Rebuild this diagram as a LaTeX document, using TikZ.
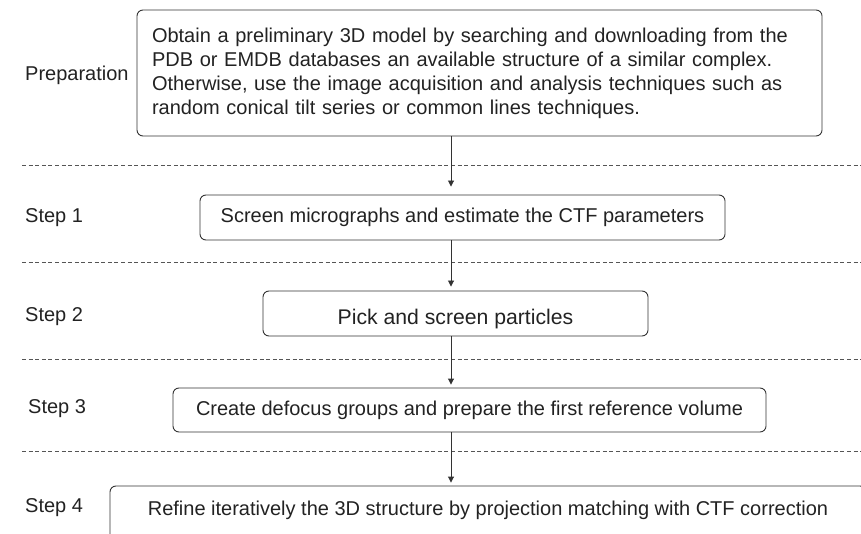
\documentclass[tikz,border=0pt]{standalone}
\usepackage{fontspec}
\setmainfont{Liberation Sans}
\usetikzlibrary{arrows.meta}
\definecolor{ink}{HTML}{222222}
\definecolor{edge}{HTML}{333333}
\definecolor{dashc}{HTML}{555555}
\begin{document}
\begin{tikzpicture}[x=1pt,y=1pt,
  box/.style={draw=edge, line width=0.9pt, rounded corners=6pt, inner sep=0pt, text=ink, font=\fontsize{20}{24}\selectfont},
  lab/.style={anchor=west, inner sep=0pt, text=ink, font=\fontsize{20}{24}\selectfont},
  sep/.style={draw=dashc, line width=0.8pt, dash pattern=on 4pt off 2.6pt},
  flow/.style={draw=edge, line width=0.9pt, -{Triangle[length=6pt,width=6pt]}}]
\useasboundingbox (0,0) rectangle (861,-534);
% boxes
\node[box, minimum width=685pt, minimum height=126pt, text width=655pt, align=left] (prep) at (479.5,-73)
 {Obtain a preliminary 3D model by searching and downloading from the\\
  PDB or EMDB databases an available structure of a similar complex.\\
  Otherwise, use the image acquisition and analysis techniques such as\\
  random conical tilt series or common lines techniques.};
\node[box, minimum width=525pt, minimum height=45pt] (s1) at (462.5,-217.5) {Screen micrographs and estimate the CTF parameters};
\node[box, minimum width=385pt, minimum height=45pt, font=\fontsize{21.2}{25}\selectfont, text height=21pt, text depth=0pt] (s2) at (455.5,-313.5) {Pick and screen particles};
\node[box, minimum width=593pt, minimum height=44pt] (s3) at (469.5,-410) {Create defocus groups and prepare the first reference volume};
\node[box, minimum width=756pt, minimum height=54pt, text height=10pt, text depth=6pt] (s4) at (488,-513) {Refine iteratively the 3D structure by projection matching with CTF correction};
% labels
\node[lab] (lp) at (25,-75) {Preparation};
\node[lab] (l1) at (25,-218) {Step 1};
\node[lab] (l2) at (25,-317) {Step 2};
\node[lab] (l3) at (28,-409) {Step 3};
\node[lab] (l4) at (25,-508) {Step 4};
% separators
\coordinate (d1a) at (22,-165); \coordinate (d1b) at (861,-165);
\coordinate (d2a) at (22,-262); \coordinate (d2b) at (861,-262);
\coordinate (d3a) at (22,-359); \coordinate (d3b) at (861,-359);
\coordinate (d4a) at (22,-451); \coordinate (d4b) at (861,-451);
\draw[sep] (d1a) -- (d1b);
\draw[sep] (d2a) -- (d2b);
\draw[sep] (d3a) -- (d3b);
\draw[sep] (d4a) -- (d4b);
% arrows
\coordinate (col) at (451,0);
\draw[flow, shorten >=8pt] (prep.south -| col) -- (s1.north -| col);
\draw[flow, shorten >=4pt] (s1.south -| col) -- (s2.north -| col);
\draw[flow, shorten >=3pt] (s2.south -| col) -- (s3.north -| col);
\draw[flow, shorten >=3pt] (s3.south -| col) -- (s4.north -| col);
\end{tikzpicture}
\end{document}
